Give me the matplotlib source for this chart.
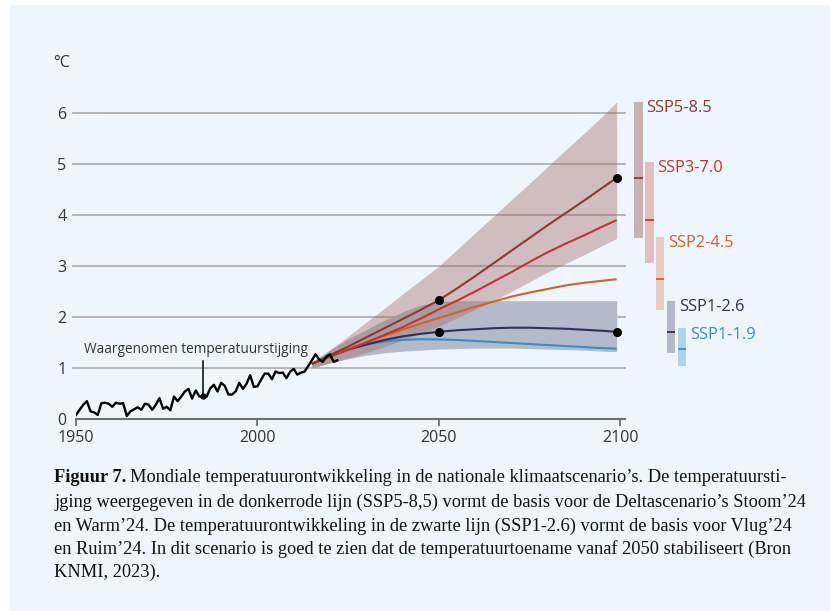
import matplotlib
matplotlib.use("Agg")
import matplotlib.pyplot as plt
from matplotlib.patches import Rectangle

# ---------------- data ----------------
obs_years = list(range(1950, 2023))
obs_vals = [0.08, 0.18, 0.28, 0.35, 0.15, 0.13, 0.08, 0.31, 0.32, 0.30,
            0.24, 0.32, 0.30, 0.31, 0.06, 0.15, 0.19, 0.23, 0.18, 0.30,
            0.28, 0.18, 0.28, 0.41, 0.20, 0.24, 0.17, 0.44, 0.35, 0.44,
            0.54, 0.59, 0.40, 0.56, 0.44, 0.45, 0.44, 0.60, 0.67, 0.54,
            0.71, 0.65, 0.48, 0.48, 0.54, 0.71, 0.59, 0.69, 0.86, 0.63,
            0.64, 0.77, 0.89, 0.89, 0.78, 0.93, 0.90, 0.91, 0.80, 0.93,
            0.98, 0.87, 0.91, 0.93, 1.04, 1.15, 1.27, 1.17, 1.12, 1.22,
            1.27, 1.12, 1.15]

proj_years = [2015, 2020, 2025, 2030, 2035, 2040, 2045, 2050, 2055, 2060,
              2065, 2070, 2075, 2080, 2085, 2090, 2095, 2099]
ssp585 = [1.08, 1.25, 1.42, 1.60, 1.78, 1.96, 2.14, 2.33, 2.56, 2.80,
          3.05, 3.30, 3.55, 3.80, 4.04, 4.28, 4.53, 4.73]
ssp370 = [1.08, 1.22, 1.36, 1.50, 1.65, 1.80, 1.97, 2.15, 2.32, 2.50,
          2.69, 2.88, 3.08, 3.27, 3.44, 3.60, 3.77, 3.90]
ssp245 = [1.08, 1.23, 1.37, 1.50, 1.63, 1.75, 1.87, 1.98, 2.09, 2.20,
          2.30, 2.40, 2.48, 2.55, 2.62, 2.67, 2.71, 2.74]
ssp126 = [1.08, 1.23, 1.36, 1.46, 1.55, 1.62, 1.67, 1.71, 1.74, 1.76,
          1.78, 1.79, 1.79, 1.78, 1.77, 1.75, 1.73, 1.71]
ssp119 = [1.08, 1.24, 1.37, 1.46, 1.52, 1.55, 1.565, 1.56, 1.55, 1.53,
          1.51, 1.49, 1.47, 1.45, 1.43, 1.41, 1.39, 1.38]

band585_low = [1.00, 1.10, 1.20, 1.30, 1.42, 1.55, 1.68, 1.82, 1.98, 2.15,
               2.32, 2.50, 2.69, 2.88, 3.05, 3.22, 3.40, 3.54]
band585_high = [1.12, 1.36, 1.62, 1.90, 2.17, 2.45, 2.72, 3.00, 3.32, 3.65,
                3.97, 4.30, 4.62, 4.95, 5.28, 5.60, 5.93, 6.22]
band126_low = [1.00, 1.10, 1.18, 1.25, 1.30, 1.33, 1.35, 1.37, 1.38, 1.39,
               1.39, 1.39, 1.38, 1.37, 1.36, 1.35, 1.33, 1.32]
band126_high = [1.10, 1.35, 1.57, 1.75, 1.94, 2.10, 2.23, 2.30, 2.32, 2.32,
                2.32, 2.32, 2.32, 2.32, 2.32, 2.32, 2.32, 2.32]

dot_years_585 = [2050, 2099]
dot_vals_585 = [2.33, 4.73]
dot_years_126 = [2050, 2099]
dot_vals_126 = [1.71, 1.71]

scenarios = ["SSP5-8.5", "SSP3-7.0", "SSP2-4.5", "SSP1-2.6", "SSP1-1.9"]
range_low = [3.54, 3.05, 2.14, 1.30, 1.04]
range_high = [6.22, 5.03, 3.56, 2.32, 1.78]
range_med = [4.73, 3.90, 2.74, 1.71, 1.38]

x_ticks = [1950, 2000, 2050, 2100]
y_ticks = [0, 1, 2, 3, 4, 5, 6]

annot_text = "Waargenomen temperatuurstijging"
annot_year, annot_val = 1985, 0.45

caption_lines = [
    "Mondiale temperatuurontwikkeling in de nationale klimaatscenario’s. De temperatuursti-",
    "jging weergegeven in de donkerrode lijn (SSP5-8,5) vormt de basis voor de Deltascenario’s Stoom’24",
    "en Warm’24. De temperatuurontwikkeling in de zwarte lijn (SSP1-2.6) vormt de basis voor Vlug’24",
    "en Ruim’24. In dit scenario is goed te zien dat de temperatuurtoename vanaf 2050 stabiliseert (Bron",
    "KNMI, 2023).",
]

# ---------------- style ----------------
BG = "#eef5fc"
line_colors = ["#8b3a30", "#c8322d", "#d2622c", "#2a3457", "#3a8ec6"]
bar_colors = ["#c9b1b3", "#e4bcc2", "#e9cbc3", "#b3b9c8", "#b0d3e8"]
text_col = "#333333"
sans = ["Open Sans", "DejaVu Sans"]

W, H = 830, 611
fig = plt.figure(figsize=(W / 100, H / 100), dpi=100)
fig.patch.set_facecolor("white")
fig.patches.append(Rectangle((10 / W, 0), 820 / W, 606 / H,
                             transform=fig.transFigure, facecolor=BG,
                             edgecolor="none", zorder=-10))

ax_left, ax_right = 76, 625
y0_px, unit_px = 419, 51
ymax = 6.2
ax = fig.add_axes([ax_left / W, (H - y0_px) / H, (ax_right - ax_left) / W,
                   ymax * unit_px / H])
ax.set_facecolor("none")
ax.set_xlim(1950, 2101.3)
ax.set_ylim(0, ymax)

for s in ["top", "right", "left"]:
    ax.spines[s].set_visible(False)
ax.spines["bottom"].set_color("#6f6f6f")
ax.spines["bottom"].set_linewidth(1.5)

# gridlines
for yv in y_ticks[1:]:
    ax.plot([1949.1, 2101.3], [yv, yv], color="#b0b0b0", lw=1.3,
            clip_on=False, zorder=0)

ax.set_xticks(x_ticks)
ax.set_xticklabels([str(t) for t in x_ticks], fontsize=11.5, color=text_col,
                   family=sans)
ax.tick_params(axis="x", direction="out", length=5, width=1.3, color="#6f6f6f",
               pad=3)
ax.set_yticks(y_ticks)
ax.set_yticklabels([str(t) for t in y_ticks], fontsize=11.5, color=text_col,
                   family=sans)
ax.tick_params(axis="y", length=0, pad=7)

# bands
ax.fill_between(proj_years, band126_low, band126_high, color="#b4bac9",
                lw=0, zorder=1)
ax.fill_between(proj_years, band585_low, band585_high, color=(0.63, 0.42, 0.40),
                alpha=0.4, lw=0, zorder=2)

# scenario lines
series = [ssp585, ssp370, ssp245, ssp126, ssp119]
for vals, col in zip(series[::-1], line_colors[::-1]):
    ax.plot(proj_years, vals, color=col, lw=1.5, zorder=3,
            solid_capstyle="butt")

ax.plot(dot_years_585, dot_vals_585, "o", color="black", ms=5.5, zorder=5)
ax.plot(dot_years_126, dot_vals_126, "o", color="black", ms=5.5, zorder=5)

# observations
ax.plot(obs_years, obs_vals, color="black", lw=1.7, zorder=4)

# annotation
ax.text(1983.2, 1.37, annot_text, ha="center", va="center", fontsize=9.8,
        color=text_col, family=sans, zorder=6)
ax.plot([annot_year, annot_year], [1.13, annot_val], color="black", lw=1.1,
        zorder=6)
ax.plot([annot_year], [annot_val], "o", color="black", ms=3.5, zorder=6)

# range bars at the right
bar_x0, bar_dx, bar_w = 2104.9, 3.03, 2.45
label_y = [6.10, 4.92, 3.45, 2.20, 1.65]
for i, name in enumerate(scenarios):
    xc = bar_x0 + i * bar_dx
    ax.bar(xc, range_high[i] - range_low[i], bottom=range_low[i], width=bar_w,
           color=bar_colors[i], lw=0, clip_on=False, zorder=2)
    ax.plot([xc - bar_w / 2, xc + bar_w / 2], [range_med[i], range_med[i]],
            color=line_colors[i], lw=1.3, clip_on=False, zorder=3,
            solid_capstyle="butt")
    ax.text(xc + bar_w / 2 + 1.0, label_y[i], name, color=line_colors[i],
            fontsize=11.8, family=sans, ha="left", va="center", clip_on=False)

fig.text(53 / W, 1 - 63 / H, "°C", fontsize=11.5, color=text_col,
         family=sans, ha="left", va="center")

# caption
serif = ["Liberation Serif", "DejaVu Serif"]
cap_size = 13.2
line_y = [478, 502, 526, 549, 572]
t0 = fig.text(54 / W, 1 - line_y[0] / H, "Figuur 7.", fontsize=cap_size,
              weight="bold", family=serif, color="#111111", ha="left",
              va="center")
fig.canvas.draw()
bb = t0.get_window_extent(renderer=fig.canvas.get_renderer())
x_rest = (bb.x1 + 4) / W
fig.text(x_rest, 1 - line_y[0] / H, caption_lines[0], fontsize=cap_size,
         family=serif, color="#111111", ha="left", va="center")
for ln, yy in zip(caption_lines[1:], line_y[1:]):
    fig.text(54 / W, 1 - yy / H, ln, fontsize=cap_size, family=serif,
             color="#111111", ha="left", va="center")

fig.savefig("out.png", dpi=100, facecolor=fig.get_facecolor())
